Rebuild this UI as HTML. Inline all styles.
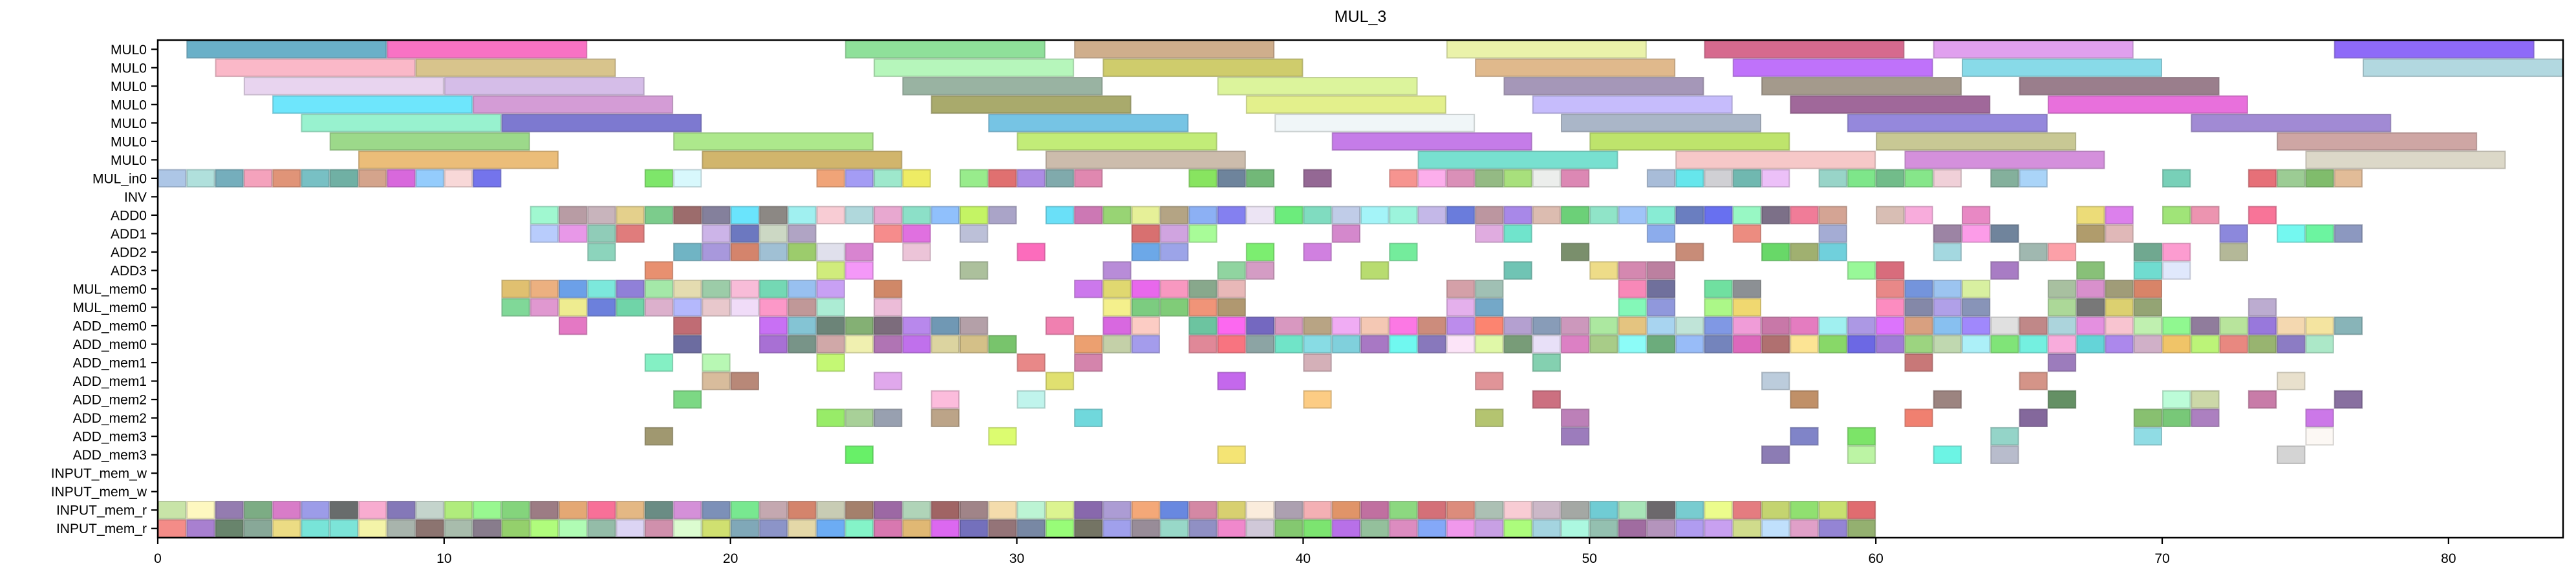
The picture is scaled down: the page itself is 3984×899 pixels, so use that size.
<!DOCTYPE html>
<html><head><meta charset="utf-8">
<style>
html,body{margin:0;padding:0;background:#fff;}
svg{display:block;font-family:"Liberation Sans","DejaVu Sans",sans-serif;}
</style></head>
<body>
<svg id="chart" width="3984" height="899" viewBox="0 0 3984 899" xmlns="http://www.w3.org/2000/svg">
<text x="2104" y="34" font-size="25" text-anchor="middle" fill="#000">MUL_3</text>
<g id="bars"></g>
<g id="yaxis"></g>
<g id="xaxis"></g>
<rect x="244" y="62" width="3720" height="770" fill="none" stroke="#000" stroke-width="2.5"/>
</svg>
<script>
const rowLabels = ["MUL0","MUL0","MUL0","MUL0","MUL0","MUL0","MUL0","MUL_in0","INV","ADD0","ADD1","ADD2","ADD3","MUL_mem0","MUL_mem0","ADD_mem0","ADD_mem0","ADD_mem1","ADD_mem1","ADD_mem2","ADD_mem2","ADD_mem3","ADD_mem3","INPUT_mem_w","INPUT_mem_w","INPUT_mem_r","INPUT_mem_r"];
const xTicks = [0,10,20,30,40,50,60,70,80];
const rowDurations = [7,7,7,7,7,7,7,1,1,1,1,1,1,1,1,1,1,1,1,1,1,1,1,1,1,1,1];
const rowStarts = [
[1,8,24,32,45,54,62,76],
[2,9,25,33,46,55,63,77],
[3,10,26,37,47,56,65],
[4,11,27,38,48,57,66],
[5,12,29,39,49,59,71],
[6,18,30,41,50,60,74],
[7,19,31,44,53,61,75],
[0,1,2,3,4,5,6,7,8,9,10,11,17,18,23,24,25,26,28,29,30,31,32,36,37,38,40,43,44,45,46,47,48,49,52,53,54,55,56,58,59,60,61,62,64,65,70,73,74,75,76],
[],
[13,14,15,16,17,18,19,20,21,22,23,24,25,26,27,28,29,31,32,33,34,35,36,37,38,39,40,41,42,43,44,45,46,47,48,49,50,51,52,53,54,55,56,57,58,60,61,63,67,68,70,71,73],
[13,14,15,16,19,20,21,22,25,26,28,34,35,36,41,46,47,52,55,58,62,63,64,67,68,72,74,75,76],
[15,18,19,20,21,22,23,24,26,30,34,35,38,40,43,49,53,56,57,58,62,65,66,69,70,72],
[17,23,24,28,33,37,38,42,47,50,51,52,59,60,64,67,69,70],
[12,13,14,15,16,17,18,19,20,21,22,23,25,32,33,34,35,36,37,45,46,51,52,54,55,60,61,62,63,66,67,68,69],
[12,13,14,15,16,17,18,19,20,21,22,23,25,33,34,35,36,37,45,46,51,52,54,55,60,61,62,63,66,67,68,69,73],
[14,18,21,22,23,24,25,26,27,28,31,33,34,36,37,38,39,40,41,42,43,44,45,46,47,48,49,50,51,52,53,54,55,56,57,58,59,60,61,62,63,64,65,66,67,68,69,70,71,72,73,74,75,76],
[18,21,22,23,24,25,26,27,28,29,32,33,34,36,37,38,39,40,41,42,43,44,45,46,47,48,49,50,51,52,53,54,55,56,57,58,59,60,61,62,63,64,65,66,67,68,69,70,71,72,73,74,75],
[17,19,23,30,32,40,48,61,66],
[19,20,25,31,37,46,56,65,74],
[18,27,30,40,48,57,62,66,70,71,73,76],
[23,24,25,27,32,46,49,61,65,69,70,71,75],
[17,29,49,57,59,64,69,75],
[24,37,56,59,62,64,74],
[],
[],
[0,1,2,3,4,5,6,7,8,9,10,11,12,13,14,15,16,17,18,19,20,21,22,23,24,25,26,27,28,29,30,31,32,33,34,35,36,37,38,39,40,41,42,43,44,45,46,47,48,49,50,51,52,53,54,55,56,57,58,59],
[0,1,2,3,4,5,6,7,8,9,10,11,12,13,14,15,16,17,18,19,20,21,22,23,24,25,26,27,28,29,30,31,32,33,34,35,36,37,38,39,40,41,42,43,44,45,46,47,48,49,50,51,52,53,54,55,56,57,58,59]
];
const rowColors = [
["#6ab0c8","#f872c4","#8fe09a","#cfae8c","#eaf2aa","#d66a8e","#e0a0ee","#8e6af8"],
["#fab8c8","#d8c48c","#b6f6bb","#cfcc6c","#e0b98c","#bf72fa","#88dae8","#b2d8e0"],
["#e8d4ef","#d5bde8","#99b3a2","#dcf49c","#a597b8","#a49a8c","#9a7e8c"],
["#6ee6fc","#d49cd6","#a9aa6c","#e3f08c","#c6bcfc","#a0689a","#e870dc"],
["#98f2cf","#7d79d0","#76c4e4","#f0f6f8","#aab6c8","#9588dc","#a18ad4"],
["#9cd98a","#ade88c","#c2ec78","#c57ce8","#bee46c","#c8c894","#cea6a4"],
["#ebbd79","#d1b56c","#ccbcac","#78e0d0","#f6c8c8","#d490dc","#dcd8c8"],
["#adc6e6","#b0e0dc","#75aebc","#f4a2bc","#e09478","#78c0c4","#70b0a4","#d4a48c","#d868dc","#94ccfc","#f8d8d8","#7474ec","#7ee66a","#d8f8fc","#f0a478","#a49cf4","#9ee8cc","#eeec64","#98ec8c","#e07070","#ac8ce4","#80aaac","#e088b0","#88e460","#6e849c","#72b878","#946894","#f69490","#fcaeec","#da90b8","#94ba84","#a8e07c","#eceeec","#dc88b4","#a8bcd8","#66e6ec","#d0d0d4","#70b8b0","#ecc0f8","#98d4c8","#7ee68a","#72bc8a","#86e68a","#f0d0d8","#84b09c","#aad4f8","#78d0b8","#e67078","#9ccc94","#80bc6c","#e2bc98"],
[],
["#a0f8d0","#b89ca4","#c8b4bc","#e4d08c","#7ccc8c","#9c6c6c","#84809c","#6ae4fc","#8c8884","#a0f0f0","#f8ccd4","#b0d8dc","#e8a8d0","#8ce0c8","#90c0fc","#c4f464","#aaa4c8","#6ae0f8","#cc78b4","#98d474","#e6f098","#b4a484","#8cb0f4","#8480f0","#ece4f4","#6cec7c","#80dcc0","#c0cce8","#a4f4f8","#9cf4dc","#c4b8e8","#6a7cdc","#bc96a0","#a888e8","#dcbcb0","#6cd078","#90e4c8","#a0c4f8","#88ecd4","#6a7ec0","#6870f0","#98f8c4","#7c7088","#f07c98","#d4a494","#d8beb4","#f8acdc","#e888c4","#ecdc78","#dc80ec","#a0e478","#ec94b0","#f87498"],
["#b8ccfc","#e898e8","#90ccb8","#e07c7c","#ccb4e8","#6c78c0","#ccd8c4","#b0a4c4","#f68c8c","#e070e0","#bcc0d8","#d87070","#d0a4e0","#a8fc98","#d488cc","#e0ace0","#70e4cc","#8cacec","#ec8c80","#a4acd4","#9c84a4","#fc9ce8","#70849c","#b09c6c","#e0b8b8","#8c88dc","#74f8f0","#6cf4a0","#8c98c0"],
["#8cd4bc","#70b4c4","#a898dc","#d4846c","#a0c0d4","#9ccc6c","#e0e0ec","#d884d0","#ecc4d8","#fc6cbc","#6ca8e8","#9ca4e8","#7cee70","#d080e0","#74ec9c","#7a8f6c","#c88c78","#68d868","#a0b070","#70d0dc","#a4d8e0","#a0b8b0","#fca0a8","#70a890","#fc9cd0","#b4b898"],
["#e89070","#d0ec7c","#f498f8","#acc09c","#b88cd8","#90d4a0","#d49cc4","#b8dc70","#70c4b4","#eedc88","#d488b0","#bc80a0","#98f898","#d86c7c","#a87cc4","#88c078","#70dcd0","#e0e8fc"],
["#e0c070","#ecb080","#6ca0e8","#7ce8dc","#9080d8","#a4e8a8","#e4dcb0","#9ccca8","#f8bcd8","#74d8b4","#98c0f0","#c8a0f4","#d08868","#cc78ec","#e0d870","#e868ec","#f898c0","#88a88c","#e8b8b8","#d4a0a8","#a0c0b4","#f888b8","#70709c","#70e0a0","#8c9094","#e88888","#7494dc","#9cc4f0","#d8f0a0","#a8c0a0","#d890cc","#a09c78","#d88468"],
["#80d898","#e098d0","#eeec90","#6c80dc","#70d4a8","#dcb0cc","#b4b8fc","#e8c8cc","#f0dcf8","#fc98c8","#c09898","#acecd4","#ecbcd8","#f4f08c","#7ccc80","#80cc78","#f09478","#b09870","#e4b0ec","#74a8c8","#84f8b8","#9098dc","#acf888","#f0d870","#fc8cc0","#8488a8","#b0a0e8","#8894b8","#acd898","#787878","#dcd070","#94a474","#bcacd0"],
["#e478c4","#c06c74","#c870f4","#84c4d4","#6c8478","#84b074","#7c6c7c","#b888ec","#7098b4","#b4a0a8","#f080b0","#d868e0","#fcccc4","#6cc4a0","#fc68f0","#7468c0","#d898c0","#b8a484","#f0acf4","#f4c8b4","#fc78e4","#cc8c7c","#bc8cec","#fc8470","#b4a0d0","#889cb8","#cc98bc","#ace8a0","#e4c480","#a8d4f0","#c0e4d8","#8098e4","#f09cd8","#c878a8","#e47cc0","#a0f0f0","#ac98e4","#dc74fc","#d8a080","#88c0f0","#a088fc","#e0e0e0","#c08888","#acd4dc","#e490e0","#f8c4d0","#c0f0b0","#90f890","#907c9c","#b8e49c","#9878dc","#f4d8b0","#f4e4a0","#88b4b8"],
["#6c6ca0","#a870d4","#789488","#d0a8a8","#f0f0b0","#b074b4","#c070ec","#dcd4a0","#d4c088","#78c46c","#eca070","#c4d0a8","#a49cec","#e08898","#f87480","#8ca4a4","#70e4c8","#88dce4","#80d0dc","#a878c4","#70f8f0","#8878bc","#fce4f8","#e0f8a8","#789c78","#e8e0f8","#dc80c4","#a8cc88","#8cfcf8","#6cac7c","#98bcf8","#7484bc","#dc68bc","#b07070","#fce494","#88d868","#6c68e4","#a07cd8","#9cd480","#c0d8b0","#acf0f8","#80e478","#74f0e0","#f8acdc","#64d4d8","#ac88ec","#d0b0c8","#f0c468","#bcf478","#e88880","#98b470","#8c7cc4","#ace8c8"],
["#84f0c4","#b8f8b4","#c4f874","#e88888","#d484ac","#d4b0b8","#84d0b0","#c87878","#9c7cbc"],
["#d8bc9c","#b88878","#e0a8ec","#e0e070","#c468ec","#e09498","#bcccdc","#d49488","#e8e0cc"],
["#7cd884","#fcbcdc","#c0f4ec","#fccc84","#cc7080","#c09068","#9c8480","#649064","#bcfcd8","#ccd8a8","#c87ca8","#8870a0"],
["#98ec68","#a8d098","#98a0b0","#bca488","#70d8dc","#b4c470","#bc80b8","#f08070","#84689c","#88c070","#78c878","#ac80c0","#cc78e8"],
["#a09870","#dcfc70","#9c7cbc","#8084c8","#7ce468","#94d4c8","#90dce4","#fcf8f4"],
["#68f068","#f4e474","#8c7cb4","#bcf4a4","#6cf4e4","#b8bccc","#d4d4d4"],
[],
[],
["#c8e4a8","#fef8c0","#947cb0","#7cac84","#d87cc8","#9c9ce8","#686c6c","#f8acd0","#8478b8","#c4d4cc","#b0ec7c","#98f890","#84d47c","#9c7c84","#e4a874","#f87098","#e4b884","#6a8c84","#d490d8","#7c90b8","#78e890","#c4a8b0","#d4846c","#c8ccb4","#a4806c","#9c68a4","#b0d4b8","#a06464","#a08488","#f4dcac","#bcf4d4","#dcf490","#8868ac","#ac9cd4","#f4a878","#6888e0","#d488a4","#d8d070","#faecdc","#aca0b0","#f4b0b4","#e09468","#c070a0","#8cd880","#d47078","#dc8c7c","#acc0b4","#f8ccd4","#ccb8c8","#a4a8a4","#70ccd4","#a8e4b8","#6c686c","#78ccd0","#ecfc8c","#e47c80","#c4d470","#90e070","#c8e070","#e06c70"],
["#f48c88","#a880d0","#68846c","#88a898","#ecdc84","#78e4d8","#7ce4d8","#f4f4a8","#a8b4ac","#8c7470","#a8bcac","#887c8c","#94d06c","#b0fc7c","#b0fcb4","#94bca8","#dcd4f4","#d090ac","#dcfcd0","#d0e070","#80a8b8","#8c94c8","#e4d8a8","#6cacf4","#84f4c8","#d878b0","#e0b874","#dc68f0","#7470bc","#947478","#7888a4","#98fc78","#747464","#a0a0ec","#988c98","#98d8c8","#9090c4","#f088cc","#d0c8d8","#84c870","#7ce470","#b870e8","#94c09c","#dc8cc0","#84a8f8","#f098ec","#c8a0e4","#acfc7c","#a4d4e0","#acf8e0","#94c0b0","#a06ca0","#b494bc","#b09cf0","#c8a0f0","#d0dc8c","#c0e0fc","#e0a0c8","#9484d4","#94b070"]
];

const NS = "http://www.w3.org/2000/svg";
const plotL = 244, plotR = 3964, plotT = 62, plotB = 832;
const xMin = 0, xMax = 84;
function xScale(v){ return plotL + (v - xMin) / (xMax - xMin) * (plotR - plotL); }
function yScale(r){ return plotT + (r + 0.5) / rowLabels.length * (plotB - plotT); }
const rowH = (plotB - plotT) / rowLabels.length;
function darker(hex){
  const n = parseInt(hex.slice(1),16);
  const r = Math.round(((n>>16)&255)*0.78), g = Math.round(((n>>8)&255)*0.78), b = Math.round((n&255)*0.78);
  return "rgb("+r+","+g+","+b+")";
}
const barsG = document.getElementById("bars");
rowStarts.forEach(function(starts, r){
  starts.forEach(function(s, i){
    const rect = document.createElementNS(NS, "rect");
    
    
    const x0 = xScale(s), x1 = xScale(s + rowDurations[r]);
    const col = (rowColors[r] && rowColors[r][i]) || "#aaaaaa";
    rect.setAttribute("x", x0 + 1);
    rect.setAttribute("y", yScale(r) - rowH / 2 + 1);
    rect.setAttribute("width", x1 - x0 - 2);
    rect.setAttribute("height", rowH - 2);
    rect.setAttribute("fill", col);
    rect.setAttribute("stroke", darker(col));
    rect.setAttribute("stroke-opacity", "0.7");
    rect.setAttribute("stroke-width", "2");
    barsG.appendChild(rect);
  });
});
const yG = document.getElementById("yaxis");
rowLabels.forEach(function(lab, r){
  const y = yScale(r);
  const t = document.createElementNS(NS, "line");
  
  
  t.setAttribute("x1", plotL - 10); t.setAttribute("x2", plotL);
  t.setAttribute("y1", y); t.setAttribute("y2", y);
  t.setAttribute("stroke", "#000"); t.setAttribute("stroke-width", "2.2");
  yG.appendChild(t);
  const tx = document.createElementNS(NS, "text");
  
  
  tx.setAttribute("x", plotL - 17); tx.setAttribute("y", y + 7.5);
  tx.setAttribute("font-size", "21"); tx.setAttribute("text-anchor", "end");
  tx.textContent = lab;
  yG.appendChild(tx);
});
const xG = document.getElementById("xaxis");
xTicks.forEach(function(v){
  const x = xScale(v);
  const t = document.createElementNS(NS, "line");
  
  
  t.setAttribute("x1", x); t.setAttribute("x2", x);
  t.setAttribute("y1", plotB); t.setAttribute("y2", plotB + 10);
  t.setAttribute("stroke", "#000"); t.setAttribute("stroke-width", "2.2");
  xG.appendChild(t);
  const tx = document.createElementNS(NS, "text");
  
  
  tx.setAttribute("x", x); tx.setAttribute("y", plotB + 39);
  tx.setAttribute("font-size", "21"); tx.setAttribute("text-anchor", "middle");
  tx.textContent = String(v);
  xG.appendChild(tx);
});
</script>
</body></html>
